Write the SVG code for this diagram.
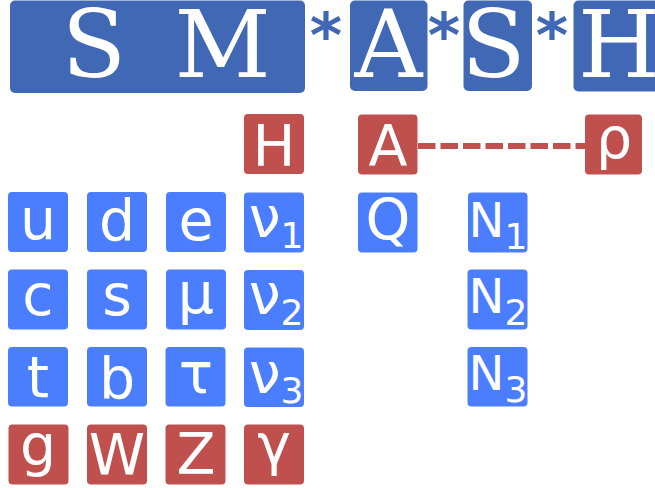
<svg xmlns="http://www.w3.org/2000/svg" width="655" height="488" viewBox="0 0 655 488">
<style>
.dk{fill:#4068b5}
.bl{fill:#4a7eff}
.rd{fill:#c0504d}
.big{font-family:"DejaVu Serif",serif;font-size:94px;fill:#ffffff;text-anchor:middle}
.ast{font-family:"DejaVu Sans",sans-serif;font-weight:bold;font-size:62px;fill:#4068b5;text-anchor:middle}
.t{font-family:"DejaVu Sans",sans-serif;font-size:57px;fill:#ffffff;text-anchor:middle}
.n{font-size:48px}
.sub{font-size:36px}
.dash{stroke:#c0504d;stroke-width:6;stroke-dasharray:17.5 5;fill:none}
</style>
<g id="banner">
  <g id="SM"><rect class="dk" x="10" y="0.5" width="295" height="92.5" rx="5"/><text class="big" x="94" y="76.5">S</text><text class="big" x="222.5" y="76.5">M</text></g>
  <text class="ast" x="326" y="57">*</text>
  <g id="A-top"><rect class="dk" x="350" y="0.5" width="77.5" height="90.5" rx="5"/><text class="big" x="388.5" y="76.5">A</text></g>
  <text class="ast" x="444" y="57">*</text>
  <g id="S-top"><rect class="dk" x="463.5" y="0.5" width="68.5" height="90.5" rx="5"/><text class="big" x="493.5" y="76.5">S</text></g>
  <text class="ast" x="552" y="57">*</text>
  <g id="H-top"><rect class="dk" x="573.5" y="0.5" width="90" height="91" rx="5"/><text class="big" x="578" y="76.5" style="text-anchor:start">H</text></g>
</g>
<g id="connectors">
  <line class="dash" x1="418" y1="146" x2="585" y2="146"/>
</g>
<g id="H"><rect class="rd" x="244" y="114" width="60" height="60" rx="4"/><text class="t" x="274" y="165.5">H</text></g>
<g id="A"><rect class="rd" x="358" y="114.5" width="59.5" height="60" rx="4"/><text class="t" x="388" y="165.5">A</text></g>
<g id="rho"><rect class="rd" x="585" y="114.5" width="57" height="60" rx="4"/><text class="t" x="614" y="158">ρ</text></g>
<g id="u"><rect class="bl" x="8" y="192" width="60" height="60" rx="4"/><text class="t" x="38" y="238.5">u</text></g>
<g id="d"><rect class="bl" x="87" y="192" width="60" height="60" rx="4"/><text class="t" x="117" y="240">d</text></g>
<g id="e"><rect class="bl" x="166" y="192" width="60" height="60" rx="4"/><text class="t" x="196" y="239.5">e</text></g>
<g id="nu1"><rect class="bl" x="244" y="192.5" width="60" height="60" rx="4"/><text class="t" x="276" y="237">ν<tspan class="sub" dy="11">1</tspan></text></g>
<g id="Q"><rect class="bl" x="358" y="192.5" width="59.5" height="60" rx="4"/><text class="t" x="388" y="240">Q</text></g>
<g id="N1"><rect class="bl" x="468" y="192.5" width="59.5" height="60" rx="4"/><text class="t n" x="498" y="237">N<tspan class="sub" dy="12">1</tspan></text></g>
<g id="c"><rect class="bl" x="8" y="269.5" width="60" height="60" rx="4"/><text class="t" x="38" y="315">c</text></g>
<g id="s"><rect class="bl" x="87" y="269.5" width="60" height="60" rx="4"/><text class="t" x="117" y="315">s</text></g>
<g id="mu"><rect class="bl" x="166" y="269.5" width="60" height="60" rx="4"/><text class="t" x="196" y="313">μ</text></g>
<g id="nu2"><rect class="bl" x="244" y="270" width="60" height="60" rx="4"/><text class="t" x="276" y="314">ν<tspan class="sub" dy="11">2</tspan></text></g>
<g id="N2"><rect class="bl" x="467.5" y="269.5" width="60" height="60" rx="4"/><text class="t n" x="498" y="313">N<tspan class="sub" dy="12">2</tspan></text></g>
<g id="t"><rect class="bl" x="8" y="347" width="60" height="59.5" rx="4"/><text class="t" x="38" y="396.5">t</text></g>
<g id="b"><rect class="bl" x="87" y="347" width="60" height="59.5" rx="4"/><text class="t" x="117" y="397.5">b</text></g>
<g id="tau"><rect class="bl" x="165.5" y="347" width="60" height="59.5" rx="4"/><text class="t" x="196" y="392.5">τ</text></g>
<g id="nu3"><rect class="bl" x="244" y="347.5" width="60" height="59.5" rx="4"/><text class="t" x="276" y="393">ν<tspan class="sub" dy="10">3</tspan></text></g>
<g id="N3"><rect class="bl" x="467.5" y="347" width="60" height="59.5" rx="4"/><text class="t n" x="498" y="390">N<tspan class="sub" dy="12">3</tspan></text></g>
<g id="g"><rect class="rd" x="8.5" y="424.5" width="60" height="60" rx="4"/><text class="t" x="38" y="465">g</text></g>
<g id="W"><rect class="rd" x="87" y="424.5" width="60" height="60" rx="4"/><text class="t" x="117" y="474.5">W</text></g>
<g id="Z"><rect class="rd" x="165.5" y="424.5" width="60" height="60" rx="4"/><text class="t" x="196" y="474">Z</text></g>
<g id="gamma"><rect class="rd" x="244" y="424.5" width="60" height="60" rx="4"/><text class="t" x="274" y="464">γ</text></g>
</svg>
